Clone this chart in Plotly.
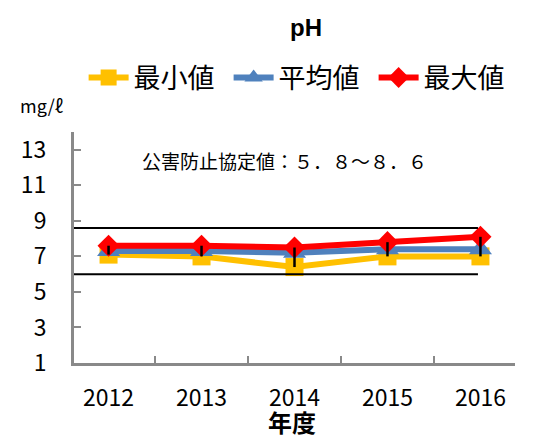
import plotly.graph_objects as go

years = ["2012", "2013", "2014", "2015", "2016"]
min_vals = [7.1, 7.0, 6.4, 7.0, 7.0]
avg_vals = [7.3, 7.3, 7.2, 7.4, 7.4]
max_vals = [7.6, 7.6, 7.5, 7.8, 8.1]
limit_values = [6.0, 8.6]
y_ticks = [1, 3, 5, 7, 9, 11, 13]

JP = "Noto Sans CJK JP"
AXIS = "#898989"

W, H = 535, 432  # page body adds an 8px margin

fig = go.Figure()
fig.add_trace(go.Scatter(x=years, y=min_vals, name="最小値", mode="lines+markers",
                         line=dict(color="#FFC000", width=6),
                         marker=dict(symbol="square", size=18, color="#FFC000")))
fig.add_trace(go.Scatter(x=years, y=avg_vals, name="平均値", mode="lines+markers",
                         line=dict(color="#4F81BD", width=6),
                         marker=dict(symbol="triangle-up", size=20, color="#4F81BD")))
fig.add_trace(go.Scatter(x=years, y=max_vals, name="最大値", mode="lines+markers",
                         line=dict(color="#FF0000", width=6),
                         marker=dict(symbol="diamond", size=17, color="#FF0000")))
fig.add_trace(go.Scatter(x=years, y=min_vals, mode="markers", showlegend=False,
                         hoverinfo="skip",
                         marker=dict(size=1, color="rgba(0,0,0,0)"),
                         error_y=dict(type="data", symmetric=False,
                                      array=[mx - mn for mx, mn in zip(max_vals, min_vals)],
                                      arrayminus=[0] * len(years),
                                      color="black", thickness=2.5, width=0)))

for v in limit_values:
    fig.add_shape(type="line", xref="x domain", yref="y", x0=0, x1=0.916, y0=v, y1=v,
                  line=dict(color="black", width=2))

fig.update_layout(
    width=W, height=H,
    margin=dict(l=66, r=28, t=124, b=77, autoexpand=False),
    paper_bgcolor="white", plot_bgcolor="white",
    font=dict(family=JP, color="black"),
    title=dict(text="<b>pH</b>", x=298 / W, xanchor="center", y=1 - 20 / H, yanchor="middle",
               font=dict(size=24, family="Liberation Sans", color="black")),
    legend=dict(orientation="h", x=0.515, xanchor="center", y=1.234, yanchor="middle",
                font=dict(size=27, family=JP), itemwidth=40, tracegroupgap=0,
                entrywidth=90, entrywidthmode="pixels",
                bgcolor="rgba(0,0,0,0)"),
    showlegend=True,
    xaxis=dict(type="category", showline=True, linecolor=AXIS, linewidth=3,
               ticks="inside", tickson="boundaries", ticklen=7, tickwidth=2, tickcolor=AXIS,
               showgrid=False, zeroline=False, tickfont=dict(size=23, family=JP),
               ticklabelstandoff=12, automargin=False),
    yaxis=dict(range=[1, 14], tickvals=y_ticks, showline=True, linecolor=AXIS, linewidth=3,
               ticks="inside", ticklen=7, tickwidth=2, tickcolor=AXIS,
               showgrid=False, zeroline=False, tickfont=dict(size=23, family=JP),
               ticklabelstandoff=20, automargin=False),
    annotations=[
        dict(text="mg/ℓ", xref="paper", yref="paper", x=(42 - 74) / 441, y=(363 - 105) / 231,
             xanchor="center", yanchor="middle", showarrow=False, font=dict(size=18, family=JP)),
        dict(text="公害防止協定値：５．８～８．６", xref="paper", yref="paper", x=(140 - 74) / 441,
             y=(363 - 160) / 231, xanchor="left", yanchor="middle", showarrow=False,
             font=dict(size=19, family=JP)),
        dict(text="<b>年度</b>", xref="paper", yref="paper", x=(292 - 74) / 441,
             y=(363 - 421) / 231, xanchor="center", yanchor="middle", showarrow=False,
             font=dict(size=24, family=JP)),
    ],
)

fig.write_html("out.html")
